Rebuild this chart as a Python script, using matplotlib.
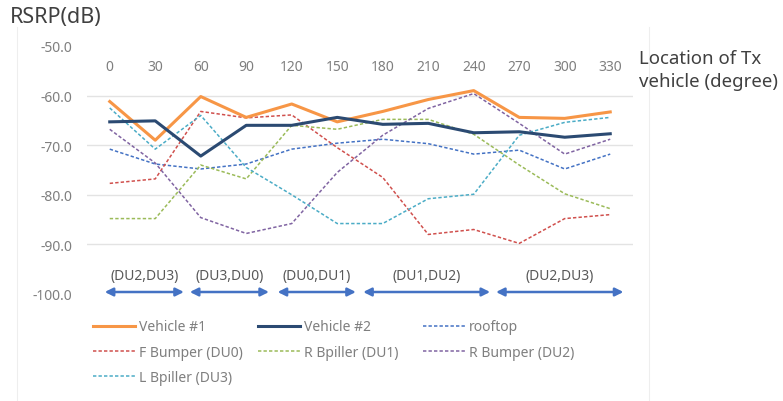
import matplotlib
matplotlib.use("Agg")
import matplotlib.pyplot as plt
from matplotlib.lines import Line2D
from matplotlib.transforms import blended_transform_factory

plt.rcParams['font.family'] = ['Noto Sans', 'DejaVu Sans']

angles = ['0', '30', '60', '90', '120', '150', '180', '210', '240', '270', '300', '330']

vehicle1 = [-61.2, -69.0, -60.2, -64.4, -61.7, -65.3, -63.2, -60.8, -59.0, -64.4, -64.6, -63.3]
vehicle2 = [-65.3, -65.1, -72.2, -66.0, -66.0, -64.4, -65.8, -65.6, -67.5, -67.3, -68.4, -67.7]
rooftop = [-70.8, -73.8, -74.8, -73.8, -70.8, -69.6, -68.8, -69.7, -71.8, -71.0, -74.8, -71.8]
f_bumper = [-77.7, -76.8, -63.2, -64.5, -63.9, -70.5, -76.5, -88.0, -87.0, -89.8, -84.8, -84.0]
r_bpiller = [-84.8, -84.8, -74.0, -76.8, -66.0, -66.8, -64.8, -64.8, -67.8, -74.0, -79.8, -82.8]
r_bumper = [-66.8, -73.6, -84.6, -87.8, -85.8, -75.5, -68.0, -62.6, -59.6, -65.6, -71.8, -68.8]
l_bpiller = [-62.5, -70.8, -64.0, -74.5, -80.0, -85.8, -85.8, -80.8, -79.9, -68.0, -65.4, -64.4]

# serving DU pairs over the angle ranges (start / end in category units)
du_labels = ['(DU2,DU3)', '(DU3,DU0)', '(DU0,DU1)', '(DU1,DU2)', '(DU2,DU3)']
du_spans = [(-0.11, 1.63), (1.76, 3.50), (3.69, 5.41), (5.57, 8.36), (8.49, 11.29)]

fig = plt.figure(figsize=(7.83, 4.02), dpi=100)
ax = fig.add_axes([0.1111, 0.2662, 0.6973, 0.617])

x = list(range(len(angles)))
dash = (0, (2.2, 1.4))
lines = {}
lines['Vehicle #1'] = ax.plot(x, vehicle1, color='#F79646', lw=2.2, zorder=5)[0]
lines['Vehicle #2'] = ax.plot(x, vehicle2, color='#2B4A72', lw=2.2, zorder=5)[0]
lines['rooftop'] = ax.plot(x, rooftop, color='#4472C4', lw=1.1, ls=dash)[0]
lines['F Bumper (DU0)'] = ax.plot(x, f_bumper, color='#D0504D', lw=1.1, ls=dash)[0]
lines['R Bpiller (DU1)'] = ax.plot(x, r_bpiller, color='#9BBB59', lw=1.1, ls=dash)[0]
lines['R Bumper (DU2)'] = ax.plot(x, r_bumper, color='#8064A2', lw=1.1, ls=dash)[0]
lines['L Bpiller (DU3)'] = ax.plot(x, l_bpiller, color='#4BACC6', lw=1.1, ls=dash)[0]

ax.set_xlim(-0.5, len(angles) - 0.5)
ax.set_ylim(-100, -50)
ax.set_yticks([-50, -60, -70, -80, -90, -100])
ax.set_yticklabels([f'{v:.1f}' for v in ax.get_yticks()])
ax.set_xticks([])
for v in (-60, -70, -80, -90):
    ax.axhline(v, color='#E3E3E3', lw=1.0, zorder=0)
for s in ax.spines.values():
    s.set_visible(False)
ax.tick_params(axis='y', length=0, pad=10.8, labelsize=10, labelcolor='#7F7F7F')

# category labels sit inside the plot, just under the top
trans = blended_transform_factory(ax.transData, ax.transAxes)
for i, a in enumerate(angles):
    ax.text(i, 0.919, a, transform=trans, ha='center', va='center',
            fontsize=10, color='#7F7F7F')

for lab, (x0, x1) in zip(du_labels, du_spans):
    ax.annotate('', xy=(x1, -99.6), xytext=(x0, -99.6),
                arrowprops=dict(arrowstyle='<|-|>', color='#4472C4', lw=1.8,
                                mutation_scale=12, shrinkA=0, shrinkB=0))
    ax.text((x0 + x1) / 2, -96.2, lab, ha='center', va='center',
            fontsize=10, color='#595959')

fig.text(0.013, 0.957, 'RSRP(dB)', fontsize=15.5, color='#404040', va='center')
fig.text(0.816, 0.825, 'Location of Tx\nvehicle (degree)', fontsize=13.4,
         color='#404040', va='center', linespacing=1.33)

# faint chart-area border
for fx in (17 / 783, 649 / 783):
    fig.add_artist(Line2D([fx, fx], [0, 0.93], color='#EEEEEE', lw=0.8))

# legend in three equal-width columns, filled row by row
columns = [['Vehicle #1', 'F Bumper (DU0)', 'L Bpiller (DU3)'],
           ['Vehicle #2', 'R Bpiller (DU1)'],
           ['rooftop', 'R Bumper (DU2)']]
col_x = [93 / 783, 258 / 783, 423 / 783]
for names, cx in zip(columns, col_x):
    fig.legend([lines[k] for k in names], names, frameon=False,
               loc='upper left', bbox_to_anchor=(cx, 0.203),
               fontsize=10, labelcolor='#7F7F7F', handlelength=3.0,
               handletextpad=0.3, labelspacing=0.75,
               borderaxespad=0, borderpad=0)

fig.savefig('out.png', dpi=100)
